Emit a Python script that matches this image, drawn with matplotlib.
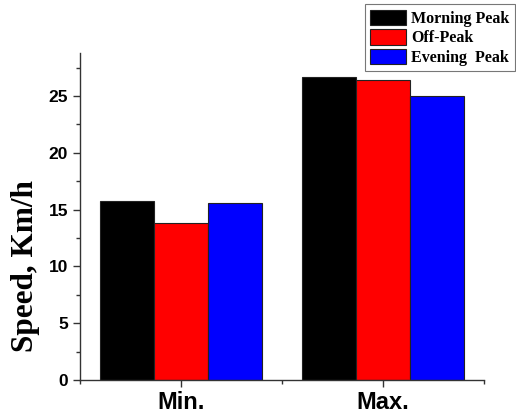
import matplotlib
matplotlib.use("Agg")
import matplotlib.pyplot as plt
import numpy as np
from matplotlib.ticker import MultipleLocator, FixedLocator

categories = ["Min.", "Max."]
series_names = ["Morning Peak", "Off-Peak", "Evening  Peak"]
morning = [15.75, 26.65]
off_peak = [13.85, 26.4]
evening = [15.55, 25.0]
colors = ["#000000", "#ff0000", "#0000ff"]

fig = plt.figure(figsize=(5.16, 4.2), dpi=100)
ax = fig.add_axes([0.155, 0.095, 0.783, 0.779])

x = np.arange(1, len(categories) + 1)
w = 0.267
for i, (vals, name, c) in enumerate(zip([morning, off_peak, evening], series_names, colors)):
    ax.bar(x + (i - 1) * w, vals, width=w, color=c, edgecolor="#222222",
           linewidth=0.8, label=name)

ax.set_xlim(0.5, 2.5)
ax.set_ylim(0, 28.8)
ax.set_xticks(x)
ax.set_xticklabels(categories, fontfamily="Liberation Sans", fontweight="bold", fontsize=17)
ax.xaxis.set_minor_locator(FixedLocator([0.5, 1.5, 2.5]))
ax.yaxis.set_major_locator(MultipleLocator(5))
ax.yaxis.set_minor_locator(MultipleLocator(2.5))
for lab in ax.get_yticklabels():
    lab.set_fontfamily("Liberation Sans")
    lab.set_fontweight("bold")
    lab.set_fontsize(12.5)
ax.tick_params(axis="both", which="major", direction="out", length=5, width=1, color="#333333")
ax.tick_params(axis="both", which="minor", direction="out", length=3, width=1, color="#333333")
ax.tick_params(axis="x", pad=3)

for s in ("top", "right"):
    ax.spines[s].set_visible(False)
for s in ("left", "bottom"):
    ax.spines[s].set_linewidth(1)
    ax.spines[s].set_color("#333333")

ax.set_ylabel("Speed, Km/h", fontfamily="Liberation Serif", fontweight="bold", fontsize=22.5)
ax.yaxis.set_label_coords(-0.098, 0.35)

leg = fig.legend(loc="upper right", bbox_to_anchor=(0.998, 0.990), frameon=True, fancybox=False,
                 prop={"family": "Liberation Serif", "weight": "bold", "size": 11.5},
                 handlelength=2.2, handleheight=1.1, handletextpad=0.35, labelspacing=0.15,
                 borderpad=0.35, borderaxespad=0)
leg.get_frame().set_edgecolor("#555555")
leg.get_frame().set_linewidth(0.8)

fig.savefig("out.png", dpi=100)
